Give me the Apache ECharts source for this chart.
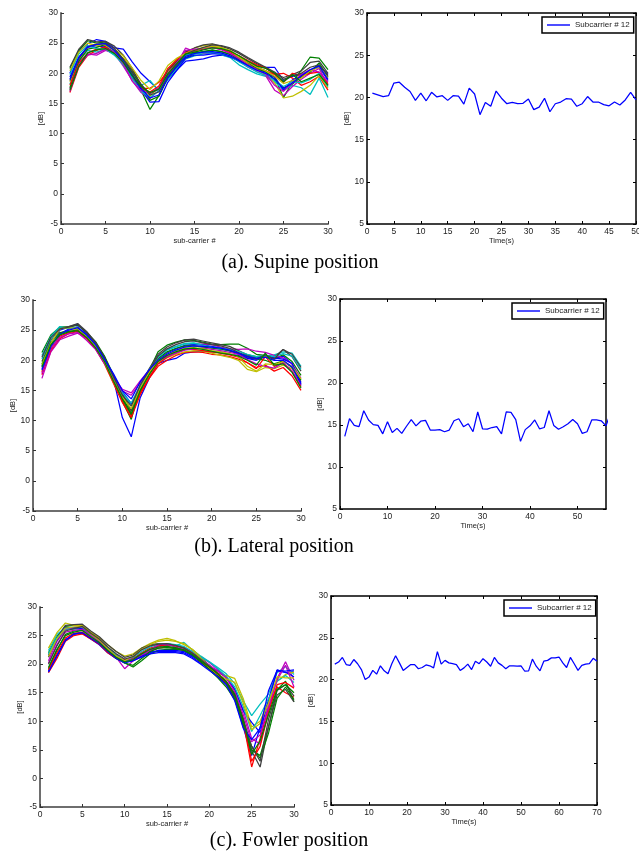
<!DOCTYPE html>
<html><head><meta charset="utf-8">
<script src="https://cdn.jsdelivr.net/npm/echarts@6/dist/echarts.min.js"></script>
<style>html,body{margin:0;padding:0;background:#fff}#c{width:639px;height:851px}</style>
</head><body><div id="c"></div>
<script>
// ---------- data ----------
const SUBCARRIERS = [1,2,3,4,5,6,7,8,9,10,11,12,13,14,15,16,17,18,19,20,21,22,23,24,25,26,27,28,29,30];
const X_TICKS_SUB = [0,5,10,15,20,25,30];
const LEGEND_NAME = 'Subcarrier # 12';
const CAPTIONS = ['(a). Supine position','(b). Lateral position','(c). Fowler position'];

// (a) supine: per-packet CSI amplitude over sub-carriers
const SUPINE_SPECTRA = [
[20.0,23.6,24.9,25.6,25.3,24.2,24.0,21.9,20.0,18.6,17.2,19.0,20.5,22.0,22.2,22.4,22.8,23.0,22.8,22.3,21.7,21.2,21.0,21.0,18.8,19.5,19.8,20.5,21.3,19.8],
[20.8,23.8,25.4,25.0,25.2,23.8,22.3,19.9,17.2,14.0,16.3,19.2,21.0,22.6,23.2,23.6,23.9,23.6,23.1,22.5,21.6,20.9,20.4,19.4,16.0,18.5,20.5,22.7,22.5,20.6],
[16.8,21.0,23.0,23.8,24.5,23.4,21.5,19.2,17.5,17.5,18.5,20.3,21.8,23.6,23.8,24.0,24.3,24.0,23.4,22.6,21.9,21.0,20.4,19.8,20.0,19.2,18.0,18.6,19.5,17.2],
[18.2,22.0,23.8,23.5,24.0,23.0,21.6,19.4,18.0,18.8,17.0,19.0,20.8,22.4,22.9,23.2,23.4,23.1,22.6,21.4,20.6,19.9,19.5,18.6,17.2,18.0,17.6,16.5,19.2,16.0],
[17.4,21.8,23.2,23.0,23.8,23.3,21.2,18.8,16.8,15.8,17.2,20.0,21.5,24.2,23.6,23.3,23.5,23.2,22.8,22.0,21.0,20.3,19.6,17.2,16.3,17.8,19.0,20.0,20.8,18.0],
[18.6,22.3,24.5,24.9,24.6,23.7,22.5,20.6,18.0,16.2,17.7,20.4,22.4,23.2,24.2,24.6,24.8,24.3,23.7,22.6,21.6,20.5,19.8,18.4,15.9,16.2,17.0,18.0,19.6,17.6],
[21.0,24.0,25.6,25.2,25.3,24.5,23.0,20.8,18.0,16.6,17.4,20.5,22.0,23.6,24.2,24.7,24.9,24.5,24.0,23.3,22.4,21.6,20.9,20.0,19.3,19.8,20.4,21.8,22.0,20.0],
[19.4,22.7,24.3,24.6,24.3,23.5,21.7,19.6,17.3,15.2,15.3,18.5,20.5,22.5,23.0,23.0,23.2,23.2,22.7,22.0,21.2,20.6,20.2,19.4,17.2,18.9,19.5,20.5,21.0,18.8],
[17.6,22.0,24.0,24.3,24.8,23.9,22.2,20.2,17.9,15.5,16.2,19.3,21.2,23.0,23.4,23.6,23.8,23.6,23.2,22.2,21.4,20.7,20.3,19.0,17.6,18.2,19.4,20.2,21.7,19.4],
[18.0,21.6,23.4,24.0,24.3,23.2,21.9,19.8,17.6,16.9,17.9,20.8,22.2,23.4,23.7,24.2,24.4,24.2,23.6,22.9,22.1,21.4,20.9,19.8,18.5,20.0,19.6,20.0,20.2,18.3],
[19.8,23.2,24.6,24.1,24.0,23.1,21.4,19.1,17.0,16.0,17.1,19.8,21.6,23.0,23.2,23.4,23.5,23.3,22.9,21.9,21.1,20.2,19.7,18.8,17.8,18.6,18.4,19.0,20.0,17.8],
[17.0,21.3,23.0,23.3,24.0,23.5,21.6,18.7,17.1,16.7,17.6,19.9,21.7,23.8,24.0,24.1,24.3,23.9,23.3,22.4,21.4,20.6,19.9,18.0,17.0,18.4,19.8,20.6,20.2,18.6],
[20.4,23.5,25.0,24.6,24.9,24.0,22.9,20.9,18.8,17.3,18.7,21.3,22.5,23.3,23.8,24.2,24.5,24.2,23.8,22.8,21.9,21.0,20.4,19.5,18.3,18.8,19.2,20.4,21.0,19.2],
[18.8,22.4,24.4,24.8,25.0,24.1,22.4,20.4,18.2,16.4,16.9,19.6,21.4,23.2,23.8,24.3,24.7,24.6,24.2,23.5,22.6,21.8,21.0,20.2,19.0,19.6,20.0,21.0,21.4,19.6],
[19.0,22.6,24.4,24.8,24.9,23.8,22.0,19.8,17.5,15.9,16.4,19.3,21.1,22.8,23.3,23.5,23.6,23.4,22.9,22.1,21.3,20.5,20.0,19.0,17.5,18.4,19.6,20.6,21.2,19.0],
[17.2,21.2,23.4,23.9,24.1,23.3,21.8,19.6,17.8,16.8,17.4,19.9,21.6,23.2,23.5,23.9,24.2,24.1,23.7,22.9,22.0,21.2,20.8,20.0,18.6,19.8,18.6,19.2,19.8,18.0]
];

// (b) lateral
const LATERAL_SPECTRA = [
[19.0,22.8,25.0,25.5,26.0,24.5,22.8,20.6,17.0,10.5,7.3,13.8,17.0,19.5,20.0,20.3,21.2,21.4,21.5,21.4,21.4,21.0,20.8,20.3,20.0,20.6,20.2,20.7,19.4,15.8],
[21.3,24.2,25.5,25.6,25.8,24.6,23.1,20.7,17.6,13.2,10.2,15.4,18.3,21.4,22.5,23.0,23.4,23.3,23.0,22.7,22.6,22.7,22.7,22.0,21.0,20.8,20.3,20.9,19.8,17.5],
[17.6,21.5,23.6,24.4,24.8,23.6,21.9,19.4,16.2,13.0,10.5,14.3,17.0,19.0,20.0,20.8,21.3,21.4,21.3,21.0,20.9,20.6,20.2,19.6,18.8,19.2,18.2,18.8,17.4,15.0],
[20.8,24.0,25.6,25.3,25.5,24.2,22.4,19.7,16.8,14.3,12.6,15.6,18.2,20.6,21.8,22.3,22.8,22.9,22.6,22.1,21.8,21.5,21.2,20.8,20.4,20.7,20.9,21.4,21.2,19.0],
[17.0,21.4,23.4,24.0,24.5,23.6,22.2,19.9,17.2,15.2,14.6,16.6,18.4,20.0,20.8,21.5,22.3,22.6,22.7,22.6,22.2,21.9,21.8,21.9,21.5,21.3,20.8,20.4,19.4,17.0],
[18.2,22.2,24.5,25.0,25.1,23.9,22.0,19.5,16.4,13.6,11.6,15.2,17.6,19.6,20.4,21.0,21.4,21.6,21.5,21.2,20.8,20.5,20.0,18.5,18.1,18.8,18.6,19.2,18.6,16.5],
[19.8,23.4,25.2,25.6,26.1,24.8,23.0,20.5,17.4,14.5,11.6,15.8,18.6,21.0,22.2,22.9,23.4,23.5,23.2,22.9,22.6,22.3,21.6,20.9,20.6,20.8,20.5,21.8,20.6,18.2],
[18.6,22.5,24.4,25.2,25.5,24.3,22.5,20.1,17.6,14.8,12.8,15.7,18.0,20.1,21.2,21.9,22.5,22.6,22.5,22.3,22.0,21.6,21.0,20.4,20.2,20.9,20.4,20.2,19.5,16.3],
[19.4,23.0,24.6,24.8,25.0,23.8,22.1,19.6,16.6,13.8,11.2,14.8,17.8,20.3,21.4,22.0,22.4,22.4,22.2,22.0,21.9,21.6,21.2,20.6,20.3,20.0,19.4,19.9,18.8,16.7],
[18.0,21.8,24.0,24.6,24.9,23.7,22.0,19.6,16.4,13.4,10.8,14.6,17.2,19.4,20.5,21.2,21.8,21.8,21.6,21.4,21.2,20.9,20.5,19.6,18.6,20.6,19.0,19.6,18.2,15.6],
[20.2,23.6,25.3,25.4,25.3,24.1,22.6,20.0,17.0,14.6,12.9,15.8,18.4,20.5,21.7,22.2,22.7,22.8,22.5,22.2,22.0,21.8,21.5,21.0,20.6,20.8,20.6,21.1,20.7,18.5],
[17.8,22.0,23.8,24.4,24.6,23.3,21.8,19.5,17.0,14.9,14.2,16.3,18.1,19.8,20.6,21.2,21.7,21.9,22.0,21.8,21.6,21.3,21.0,20.1,19.4,19.0,18.7,19.6,18.2,16.0],
[19.2,22.8,25.2,25.4,25.3,24.0,22.3,19.8,16.7,13.9,12.0,15.4,18.0,20.0,21.0,21.6,22.0,22.1,21.9,21.6,21.4,21.1,20.6,19.0,18.2,19.4,19.3,19.8,19.0,16.9],
[20.5,23.8,25.2,25.5,25.9,24.6,22.9,20.3,17.3,14.2,12.4,15.9,18.3,20.7,21.9,22.6,23.1,23.2,22.9,22.6,22.4,22.0,21.3,20.6,20.2,20.9,20.2,21.8,21.0,18.8],
[18.4,22.3,24.3,25.0,25.4,24.2,22.6,20.2,17.8,15.0,13.6,16.4,18.4,20.0,21.0,21.7,22.2,22.4,22.3,22.2,22.0,21.7,21.2,20.6,20.3,20.5,20.0,20.0,18.9,16.1],
[18.9,22.6,24.2,24.7,24.9,23.8,22.1,19.8,16.6,13.6,11.0,15.0,17.6,19.8,20.8,21.4,21.9,22.0,21.8,21.5,21.2,21.0,20.7,20.0,19.2,21.2,19.2,19.4,18.0,15.4]
];

// (c) fowler
const FOWLER_SPECTRA = [
[18.8,21.6,24.3,25.2,25.4,24.4,23.4,22.0,21.0,20.6,21.0,21.6,22.2,22.2,22.2,22.2,22.0,21.2,20.2,19.2,18.0,16.6,14.0,9.0,4.0,9.0,13.5,19.0,18.5,18.8],
[22.0,24.8,26.6,26.8,26.6,25.4,24.2,22.8,21.4,20.2,19.5,20.6,21.8,22.4,22.6,22.6,22.4,21.6,20.4,19.2,18.0,16.6,14.2,10.0,5.0,4.0,9.0,15.5,17.0,13.4],
[18.5,21.0,24.0,25.0,25.3,24.4,23.5,22.0,21.0,20.4,20.6,21.6,22.4,22.8,23.0,22.8,22.4,21.5,20.4,19.4,18.2,16.8,14.5,10.0,2.0,7.0,12.5,16.0,15.0,14.2],
[22.4,25.2,26.4,26.2,26.4,25.2,24.2,22.9,21.6,20.4,20.8,21.8,22.6,23.2,23.3,23.2,23.8,22.5,21.4,20.4,19.4,18.3,16.6,13.6,11.0,13.0,14.8,18.5,19.6,18.2],
[20.6,24.0,26.0,26.4,26.6,25.4,24.3,22.8,21.2,19.2,20.6,21.4,22.4,23.0,23.4,23.2,23.0,22.2,21.2,20.3,19.0,17.8,15.6,12.0,7.0,6.0,12.0,17.5,20.4,17.2],
[22.8,25.5,27.2,26.8,26.8,25.6,24.6,23.4,22.2,21.4,21.8,22.8,23.6,24.2,24.5,24.1,23.4,22.6,21.2,19.6,18.4,18.0,17.5,14.0,9.0,10.0,13.6,17.0,18.2,18.6],
[21.2,24.6,26.8,26.9,27.0,25.8,24.8,23.4,22.2,21.2,21.6,22.8,23.4,23.6,23.6,23.3,22.9,22.0,21.0,19.8,18.4,16.8,14.4,9.6,4.8,2.0,9.2,14.6,15.6,13.4],
[21.6,24.2,26.4,26.4,26.2,25.0,23.9,22.6,21.4,20.4,20.6,21.4,22.0,22.4,22.4,22.4,22.2,21.4,20.6,19.6,18.8,17.6,15.6,11.8,9.8,8.0,13.8,18.8,18.6,17.8],
[19.2,22.4,25.2,25.8,26.0,25.0,24.0,22.5,21.0,20.2,19.8,21.0,22.2,22.8,22.9,22.7,22.4,21.6,20.4,19.0,17.6,16.0,13.8,9.4,5.6,3.5,8.0,14.0,16.0,13.8],
[19.0,22.0,24.6,25.4,25.6,24.6,23.6,22.3,21.2,20.8,21.0,22.0,22.8,23.2,23.4,23.2,22.8,22.0,20.8,19.6,18.4,17.0,14.8,10.6,3.0,5.6,11.6,16.4,16.8,15.8],
[21.8,24.6,26.2,26.0,26.0,25.0,24.0,22.8,21.6,20.6,21.2,22.2,23.0,23.5,23.6,23.4,23.1,22.2,21.2,20.4,19.2,17.8,16.0,12.6,8.2,11.0,14.0,17.0,18.0,16.8],
[20.2,23.4,25.6,25.9,26.1,25.1,24.0,22.6,21.4,20.6,20.9,21.6,22.5,23.4,23.5,23.0,22.6,21.8,20.8,19.8,18.8,17.6,15.2,11.2,6.4,7.6,12.8,17.2,19.8,16.0],
[21.4,24.4,26.3,26.5,26.6,25.3,24.2,22.7,21.4,20.6,21.4,22.6,23.4,24.0,24.2,24.0,23.6,22.5,21.0,19.4,18.2,17.4,16.8,13.2,8.5,9.6,13.2,17.8,17.6,17.6],
[20.0,23.2,25.8,26.2,26.6,25.4,24.4,23.0,21.8,20.9,21.3,22.5,23.2,23.5,23.6,23.3,22.8,21.9,20.8,19.6,18.3,17.0,14.8,10.4,5.6,3.0,10.4,15.4,16.4,14.4],
[18.6,21.4,24.1,25.3,25.5,24.5,23.6,22.2,21.0,20.2,20.6,21.2,21.8,22.0,22.0,22.0,21.8,21.0,20.0,18.9,17.8,16.4,13.6,8.8,6.8,8.8,15.4,18.9,18.8,19.0],
[19.4,22.6,25.0,25.6,25.9,24.8,23.8,22.4,21.2,20.4,20.8,21.8,22.6,23.0,23.1,22.9,22.5,21.7,20.6,19.5,18.3,16.9,14.6,10.2,4.2,6.6,11.2,15.6,16.4,15.0]
];

// sub-carrier #12 over time (one sample per second, starting at t = 1 s)
const SUPINE_SC12 = [20.5,20.3,20.1,20.2,21.7,21.8,21.2,20.7,19.65,20.5,19.6,20.6,20.05,20.2,19.65,20.2,20.15,19.2,21.1,20.4,17.95,19.4,18.95,20.75,19.9,19.25,19.4,19.25,19.3,19.8,18.55,18.85,19.9,18.3,19.25,19.45,19.85,19.8,18.95,19.25,20.1,19.45,19.45,19.15,19.0,19.45,19.1,19.7,20.6,19.7];
const LATERAL_SC12 = [13.65,15.75,14.95,14.8,16.7,15.6,15.05,14.95,13.95,15.4,14.1,14.6,14.0,14.85,15.65,14.9,15.45,15.55,14.4,14.4,14.45,14.2,14.4,15.5,15.75,14.8,15.15,14.2,16.55,14.55,14.5,14.7,14.8,13.95,16.55,16.5,15.65,13.05,14.45,14.9,15.6,14.55,14.7,16.7,14.95,14.5,14.8,15.15,15.65,15.15,14.0,14.2,15.6,15.6,15.5,14.9,16.5];
const FOWLER_SC12 = [21.85,22.1,22.65,21.8,21.7,22.4,21.9,21.2,20.0,20.3,21.1,20.65,21.65,21.05,20.7,21.9,22.85,22.0,21.1,21.45,21.8,21.8,21.3,21.45,21.75,21.65,21.4,23.35,21.85,22.3,22.0,21.9,21.8,21.1,21.4,21.85,21.2,22.2,21.9,22.5,22.1,21.6,22.65,22.0,21.7,21.3,21.65,21.65,21.6,21.65,21.0,21.05,22.45,21.6,21.05,22.2,22.3,22.6,22.6,22.7,22.0,21.45,22.65,21.9,21.1,21.7,21.85,21.9,22.55,22.2];
const TIME_START = 1;

// axis ranges
const SPEC_Y = {min:-5, max:30, interval:5};
const TIME_Y = {min:5, max:30, interval:5};
const TIME_X = [{min:0,max:50,interval:5},{min:0,max:56,interval:10},{min:0,max:70,interval:10}];

// ---------- styling / layout ----------
const FONT = '"Liberation Sans", Arial, Helvetica, sans-serif';
const MCOLORS = ['#0000FF','#008000','#FF0000','#00BFBF','#BF00BF','#BFBF00','#404040'];

const leftGrids = [
  {left:61, top:13, width:267, height:211, yName:16, xName:13},
  {left:33, top:300, width:268, height:211, yName:16, xName:13},
  {left:40, top:607, width:254, height:200, yName:16, xName:12}
];
const rightGrids = [
  {left:367, top:13, width:269, height:211, legend:[542,17]},
  {left:340, top:299, width:266, height:210, legend:[512,303]},
  {left:331, top:596, width:266, height:209, legend:[504,600]}
];
const captionPos = [[300,263],[274,547],[289,841]];

const grids = [], xAxes = [], yAxes = [], series = [], legends = [], graphics = [];
const tickLbl = {fontSize:8.5, color:'#222', fontFamily:FONT, margin:3};
const nameTS = {fontSize:7.5, color:'#222', fontFamily:FONT};

const spectra = [SUPINE_SPECTRA, LATERAL_SPECTRA, FOWLER_SPECTRA];
const timeSeries = [SUPINE_SC12, LATERAL_SC12, FOWLER_SC12];

for (let p = 0; p < 3; p++) {
  // left spectra panel
  const lg = leftGrids[p];
  const gi = grids.length;
  grids.push({left:lg.left, top:lg.top, width:lg.width, height:lg.height, containLabel:false, outerBoundsMode:'none'});
  const xi = xAxes.length, yi = yAxes.length;
  xAxes.push({type:'value', gridIndex:gi, min:X_TICKS_SUB[0], max:X_TICKS_SUB[X_TICKS_SUB.length-1], interval:X_TICKS_SUB[1]-X_TICKS_SUB[0],
    name:'sub-carrier #', nameLocation:'middle', nameGap:lg.xName, nameTextStyle:nameTS,
    axisLine:{show:true, onZero:false, lineStyle:{color:'#6e6e6e', width:2}},
    axisTick:{show:true, inside:true, length:3, lineStyle:{color:'#333', width:1}},
    axisLabel:tickLbl, splitLine:{show:false}});
  yAxes.push({type:'value', gridIndex:gi, min:SPEC_Y.min, max:SPEC_Y.max, interval:SPEC_Y.interval,
    name:'[dB]', nameLocation:'middle', nameGap:lg.yName, nameTextStyle:nameTS,
    axisLine:{show:true, onZero:false, lineStyle:{color:'#6e6e6e', width:2}},
    axisTick:{show:true, inside:true, length:3, lineStyle:{color:'#333', width:1}},
    axisLabel:tickLbl, splitLine:{show:false}});
  spectra[p].forEach((row, k) => {
    series.push({type:'line', xAxisIndex:xi, yAxisIndex:yi, data:row.map((v,i)=>[SUBCARRIERS[i], v]),
      symbol:'none', showSymbol:false, silent:true, animation:false,
      lineStyle:{color:MCOLORS[k % MCOLORS.length], width:1.25}, z:2});
  });

  // right time panel
  const rg = rightGrids[p];
  const gj = grids.length;
  grids.push({left:rg.left, top:rg.top, width:rg.width, height:rg.height, containLabel:false, outerBoundsMode:'none'});
  const tx = TIME_X[p];
  const boxLine = {show:true, onZero:false, lineStyle:{color:'#000', width:1.5}};
  const tick = {show:true, inside:true, length:3, lineStyle:{color:'#000', width:1}};
  const xj = xAxes.length;
  xAxes.push({type:'value', gridIndex:gj, position:'bottom', min:tx.min, max:tx.max, interval:tx.interval,
    name:'Time(s)', nameLocation:'middle', nameGap:13, nameTextStyle:nameTS,
    axisLine:boxLine, axisTick:tick, axisLabel:Object.assign({showMaxLabel: tx.max % tx.interval === 0}, tickLbl), splitLine:{show:false}});
  xAxes.push({type:'value', gridIndex:gj, position:'top', min:tx.min, max:tx.max, interval:tx.interval,
    axisLine:boxLine, axisTick:tick, axisLabel:{show:false}, splitLine:{show:false}});
  const yj = yAxes.length;
  yAxes.push({type:'value', gridIndex:gj, position:'left', min:TIME_Y.min, max:TIME_Y.max, interval:TIME_Y.interval,
    name:'[dB]', nameLocation:'middle', nameGap:16, nameTextStyle:nameTS,
    axisLine:boxLine, axisTick:tick, axisLabel:tickLbl, splitLine:{show:false}});
  yAxes.push({type:'value', gridIndex:gj, position:'right', min:TIME_Y.min, max:TIME_Y.max, interval:TIME_Y.interval,
    axisLine:boxLine, axisTick:tick, axisLabel:{show:false}, splitLine:{show:false}});
  series.push({type:'line', name:LEGEND_NAME, xAxisIndex:xj, yAxisIndex:yj,
    data:timeSeries[p].map((v,i)=>[TIME_START+i, v]),
    symbol:'none', showSymbol:false, silent:true, animation:false, clip:true,
    lineStyle:{color:'#0000FF', width:1.25}, itemStyle:{color:'#0000FF'}, z:3});
  legends.push({data:[LEGEND_NAME], left:rg.legend[0], top:rg.legend[1], orient:'horizontal',
    padding:[3,4,3,5], itemWidth:23, itemHeight:1.4, itemGap:4, icon:'rect',
    itemStyle:{color:'#0000FF', borderWidth:0},
    backgroundColor:'#fff', borderColor:'#000', borderWidth:1.5, borderRadius:0,
    selectedMode:false, textStyle:{fontSize:8, color:'#222', fontFamily:FONT, lineHeight:10}});

  graphics.push({type:'text', x:captionPos[p][0], y:captionPos[p][1],
    style:{text:CAPTIONS[p], fill:'#000', font:'20px "Liberation Serif", "Times New Roman", serif', align:'center', verticalAlign:'middle'}});
}

const chart = echarts.init(document.getElementById('c'), null, {renderer:'canvas'});
chart.setOption({
  animation:false,
  backgroundColor:'#fff',
  grid:grids, xAxis:xAxes, yAxis:yAxes, series:series, legend:legends, graphic:graphics
});
</script></body></html>
